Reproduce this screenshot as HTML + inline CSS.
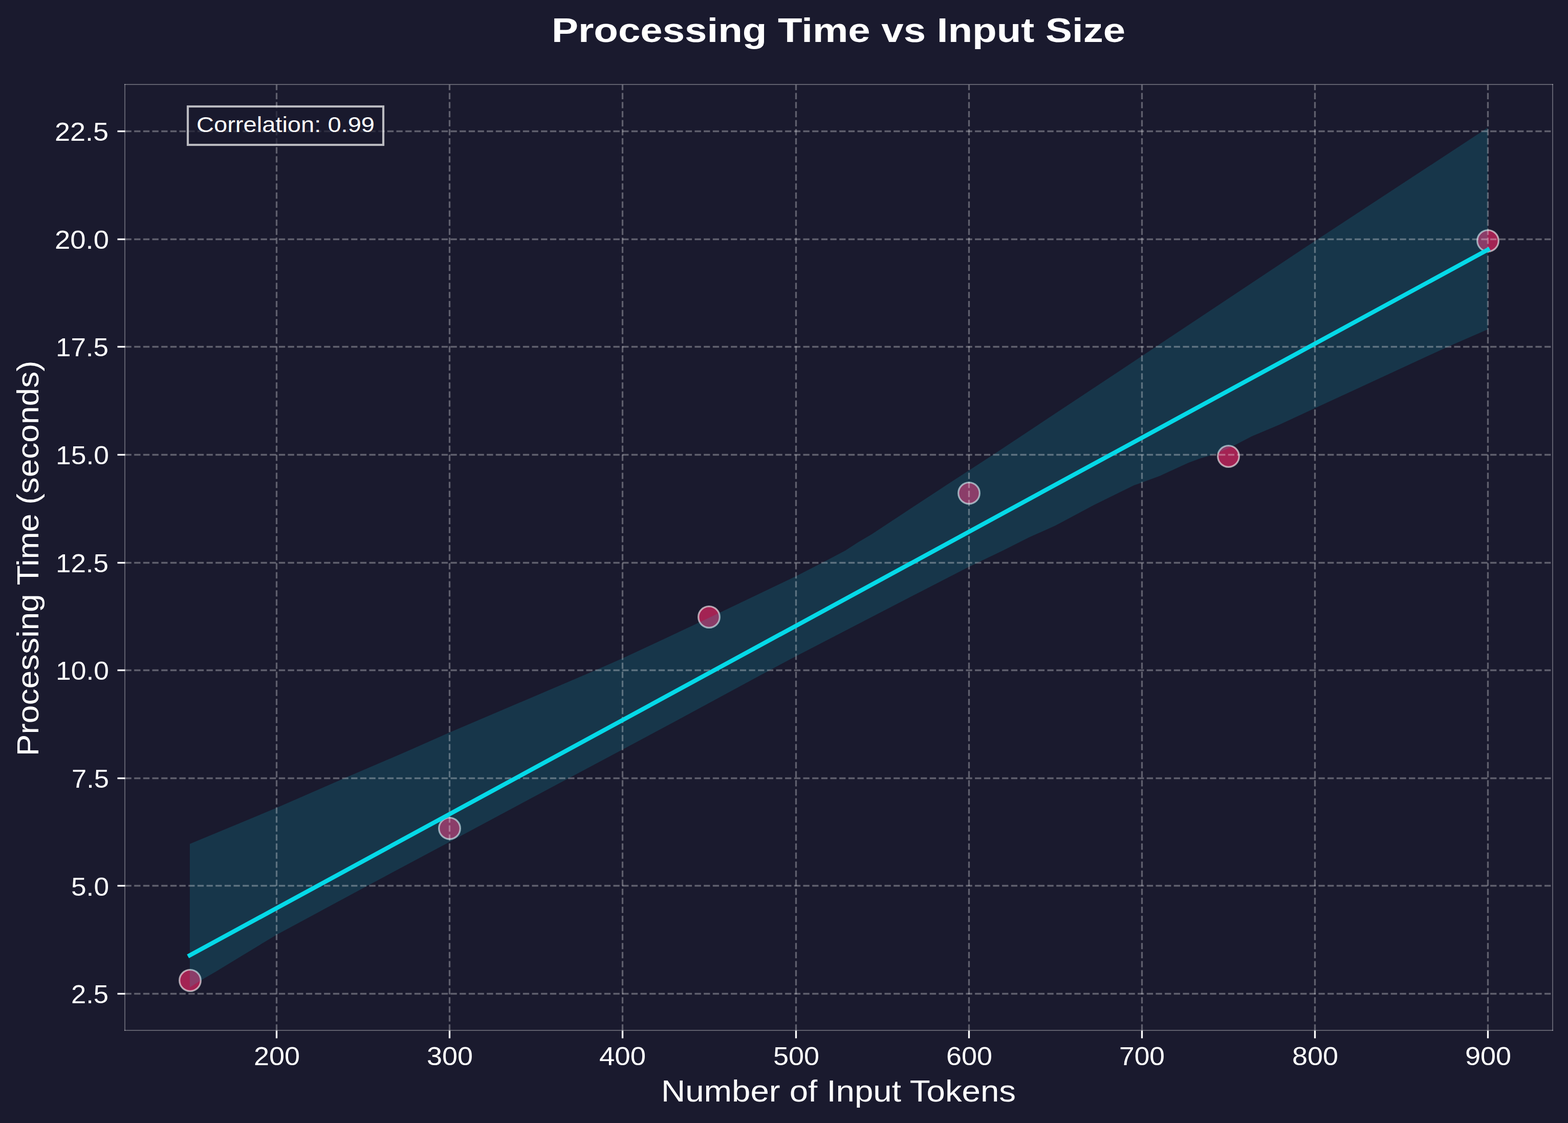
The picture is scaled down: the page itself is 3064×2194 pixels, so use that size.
<!DOCTYPE html>
<html lang="en">
<head>
<meta charset="utf-8">
<title>Processing Time vs Input Size</title>
<style>
html,body{margin:0;padding:0;background:#1a1a2e;}
body{width:3064px;height:2194px;overflow:hidden;font-family:"Liberation Sans",sans-serif;}
svg{display:block;position:absolute;left:0;top:0;}
.t{font-family:"Liberation Sans",sans-serif;fill:#fff;}
</style>
</head>
<body>
<svg width="3064" height="2194" viewBox="0 0 3064 2194" role="img" aria-label="Scatter plot with regression line: Processing Time vs Input Size">
<rect width="3064" height="2194" fill="#1a1a2e"/>
<defs><clipPath id="ax"><rect x="244" y="165" width="2790" height="1848"/></clipPath></defs>
<g clip-path="url(#ax)">
<g fill="#ff2a6d" fill-opacity="0.6" stroke="#fff" stroke-opacity="0.6" stroke-width="3.25">
<circle cx="371.5" cy="1915.5" r="20.83"/>
<circle cx="878.5" cy="1618.5" r="20.83"/>
<circle cx="1385.5" cy="1205.5" r="20.83"/>
<circle cx="1893.5" cy="963.5" r="20.83"/>
<circle cx="2400.5" cy="891.5" r="20.83"/>
<circle cx="2907.5" cy="470.5" r="20.83"/>
</g>
<path fill="#05d9e8" fill-opacity="0.15" d="M370.9 1648.8 L540.4 1578.3 L672.5 1520.6 L800 1465.8 L878.5 1431 L1163.5 1309.5 L1216.2 1286.3 L1300 1247.3 L1385.4 1207 L1555.4 1125.8 L1606.5 1099.4 L1651.6 1075.7 L1677 1059.2 L1703 1043.9 L1860 940.7 L1940.5 888.4 L2200 716.5 L2258.6 677.4 L2569.3 470.9 L2907.26 249.4 L2907.26 643.4 L2829.2 677.5 L2569.4 797.6 L2500 829.8 L2446 852.4 L2410.5 871 L2377 885.9 L2345.5 895.5 L2322 904.2 L2266.5 929.7 L2231.3 942.7 L2215.7 948.2 L2137.4 986.7 L2062 1027.1 L2011.6 1049.6 L1960 1075.4 L1893.2 1107.5 L1800 1155.4 L1555.5 1282.1 L1503.9 1309.4 L1320 1409.1 L1216.3 1464.6 L1110.3 1520.9 L878.3 1645 L716.8 1731.2 L624.6 1780.9 L540.5 1826.2 L472.4 1867.4 L422.2 1897.9 L394.7 1913.9 L370.9 1929 Z"/>
<g stroke="#fff" stroke-opacity="0.3" stroke-width="3.333" stroke-dasharray="12.333 5.333" fill="none">
<path d="M540.5 2013.5 V165.5"/>
<path d="M878.5 2013.5 V165.5"/>
<path d="M1216.5 2013.5 V165.5"/>
<path d="M1555.5 2013.5 V165.5"/>
<path d="M1893.5 2013.5 V165.5"/>
<path d="M2231.5 2013.5 V165.5"/>
<path d="M2569.5 2013.5 V165.5"/>
<path d="M2907.5 2013.5 V165.5"/>
<path d="M244.5 1941.5 H3034.5"/>
<path d="M244.5 1730.5 H3034.5"/>
<path d="M244.5 1520.5 H3034.5"/>
<path d="M244.5 1309.5 H3034.5"/>
<path d="M244.5 1099.5 H3034.5"/>
<path d="M244.5 888.5 H3034.5"/>
<path d="M244.5 677.5 H3034.5"/>
<path d="M244.5 467.5 H3034.5"/>
<path d="M244.5 256.5 H3034.5"/>
</g>
<path d="M370.9 1866.4 L2907.26 487.9" stroke="#05d9e8" stroke-width="8.333" stroke-linecap="square" fill="none"/>
</g>
<g stroke="#fff" stroke-width="3.333" fill="none">
<path d="M540.5 2013.5 V2028.5"/>
<path d="M878.5 2013.5 V2028.5"/>
<path d="M1216.5 2013.5 V2028.5"/>
<path d="M1555.5 2013.5 V2028.5"/>
<path d="M1893.5 2013.5 V2028.5"/>
<path d="M2231.5 2013.5 V2028.5"/>
<path d="M2569.5 2013.5 V2028.5"/>
<path d="M2907.5 2013.5 V2028.5"/>
<path d="M229.5 1941.5 H244.5"/>
<path d="M229.5 1730.5 H244.5"/>
<path d="M229.5 1520.5 H244.5"/>
<path d="M229.5 1309.5 H244.5"/>
<path d="M229.5 1099.5 H244.5"/>
<path d="M229.5 888.5 H244.5"/>
<path d="M229.5 677.5 H244.5"/>
<path d="M229.5 467.5 H244.5"/>
<path d="M229.5 256.5 H244.5"/>
</g>
<g stroke="#fff" stroke-opacity="0.3" stroke-width="2.083" stroke-linecap="square" fill="none">
<path d="M244 2013 V165"/>
<path d="M3034 2013 V165"/>
<path d="M244 2013 H3034"/>
<path d="M244 165 H3034"/>
</g>
<rect x="367" y="208" width="382" height="75" fill="#1a1a2e" fill-opacity="0.7" stroke="#fff" stroke-opacity="0.7" stroke-width="4.167"/>
<text class="t" x="496" y="2080.5" font-size="50" textLength="90" lengthAdjust="spacingAndGlyphs">200</text>
<text class="t" x="834" y="2080.5" font-size="50" textLength="90" lengthAdjust="spacingAndGlyphs">300</text>
<text class="t" x="1171" y="2080.5" font-size="50" textLength="91" lengthAdjust="spacingAndGlyphs">400</text>
<text class="t" x="1511" y="2080.5" font-size="50" textLength="90" lengthAdjust="spacingAndGlyphs">500</text>
<text class="t" x="1849" y="2080.5" font-size="50" textLength="90" lengthAdjust="spacingAndGlyphs">600</text>
<text class="t" x="2187" y="2080.5" font-size="50" textLength="89" lengthAdjust="spacingAndGlyphs">700</text>
<text class="t" x="2525" y="2080.5" font-size="50" textLength="90" lengthAdjust="spacingAndGlyphs">800</text>
<text class="t" x="2863" y="2080.5" font-size="50" textLength="90" lengthAdjust="spacingAndGlyphs">900</text>
<text class="t" x="1292" y="2152.17" font-size="58.33" textLength="693" lengthAdjust="spacingAndGlyphs">Number of Input Tokens</text>
<text class="t" x="139" y="1960.23" font-size="50" textLength="73" lengthAdjust="spacingAndGlyphs">2.5</text>
<text class="t" x="139" y="1749.61" font-size="50" textLength="74" lengthAdjust="spacingAndGlyphs">5.0</text>
<text class="t" x="140" y="1538.98" font-size="50" textLength="73" lengthAdjust="spacingAndGlyphs">7.5</text>
<text class="t" x="109" y="1328.36" font-size="50" textLength="104" lengthAdjust="spacingAndGlyphs">10.0</text>
<text class="t" x="109" y="1117.73" font-size="50" textLength="103" lengthAdjust="spacingAndGlyphs">12.5</text>
<text class="t" x="109" y="907.11" font-size="50" textLength="104" lengthAdjust="spacingAndGlyphs">15.0</text>
<text class="t" x="109" y="696.48" font-size="50" textLength="103" lengthAdjust="spacingAndGlyphs">17.5</text>
<text class="t" x="107" y="485.86" font-size="50" textLength="106" lengthAdjust="spacingAndGlyphs">20.0</text>
<text class="t" x="107" y="275.23" font-size="50" textLength="105" lengthAdjust="spacingAndGlyphs">22.5</text>
<text class="t" transform="translate(75 1477.33) rotate(-90)" font-size="58.33" textLength="773" lengthAdjust="spacingAndGlyphs">Processing Time (seconds)</text>
<text class="t" x="384" y="257.73" font-size="41.67" textLength="348" lengthAdjust="spacingAndGlyphs">Correlation: 0.99</text>
<text class="t" x="1078" y="82" font-size="66.67" font-weight="bold" textLength="1121" lengthAdjust="spacingAndGlyphs">Processing Time vs Input Size</text>
</svg>
</body>
</html>
